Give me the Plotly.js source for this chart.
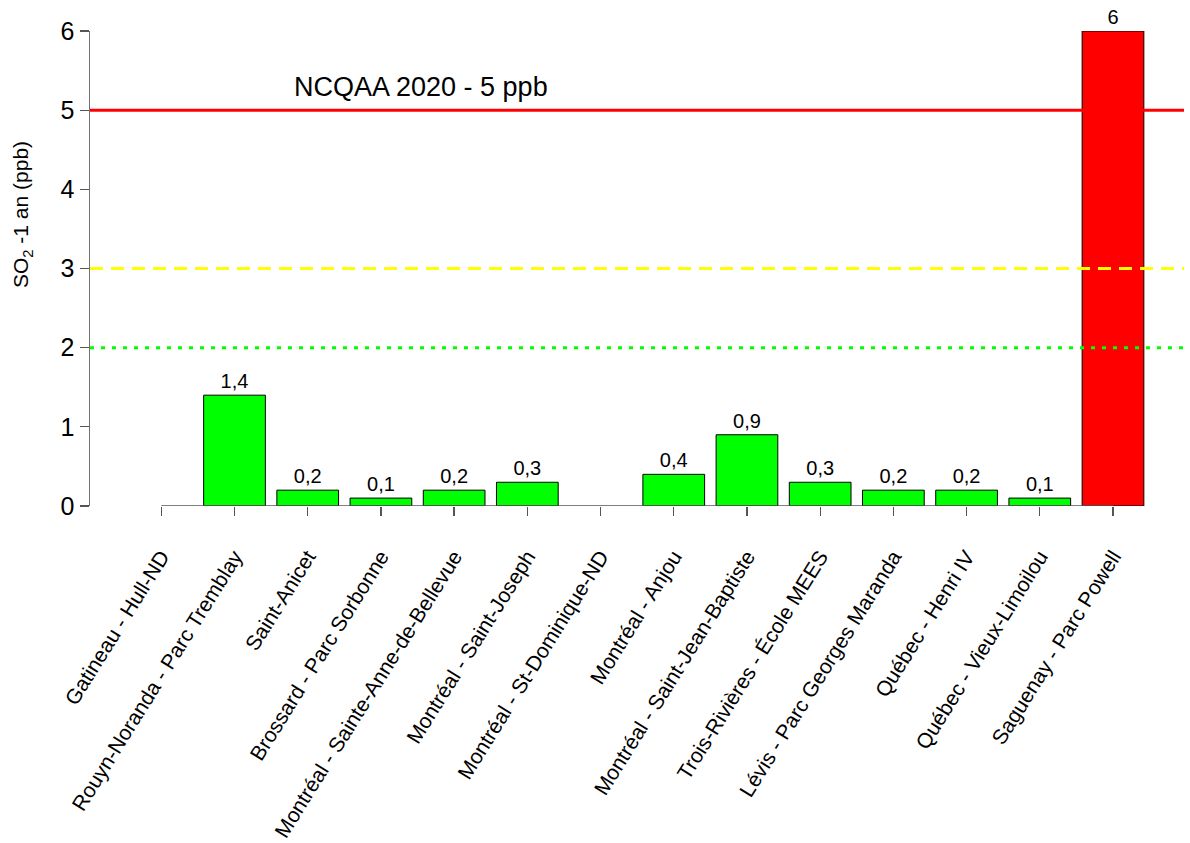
<!DOCTYPE html>
<html>
<head>
<meta charset="utf-8">
<script src="https://cdn.plot.ly/plotly-3.0.1.min.js"></script>
<style>html,body{margin:0;padding:0;background:#fff;}#chart{width:1190px;height:843px;}</style>
</head>
<body>
<div id="chart"></div>
<script>
const stations = [
  "Gatineau - Hull-ND",
  "Rouyn-Noranda - Parc Tremblay",
  "Saint-Anicet",
  "Brossard - Parc Sorbonne",
  "Montréal - Sainte-Anne-de-Bellevue",
  "Montréal - Saint-Joseph",
  "Montréal - St-Dominique-ND",
  "Montréal - Anjou",
  "Montréal - Saint-Jean-Baptiste",
  "Trois-Rivières - École MEES",
  "Lévis - Parc Georges Maranda",
  "Québec - Henri IV",
  "Québec - Vieux-Limoilou",
  "Saguenay - Parc Powell"
];
const so2Values = [null, 1.4, 0.2, 0.1, 0.2, 0.3, null, 0.4, 0.9, 0.3, 0.2, 0.2, 0.1, 6];
const normValue = 5;
const normLabel = "NCQAA 2020 - 5 ppb";
const yellowLevel = 3;
const greenLevel = 2;
const yTicks = [0, 1, 2, 3, 4, 5, 6];

const FONT = "Liberation Sans, Arial, Helvetica, sans-serif";
const barColors = so2Values.map(v => (v !== null && v > normValue) ? "#FF0000" : "#00FF00");
const textPos = so2Values.map(v => v === null ? "none" : "outside");

const trace = {
  type: "bar",
  x: stations,
  y: so2Values,
  width: 0.843,
  marker: { color: barColors, line: { color: "#000000", width: 1 } },
  texttemplate: "%{y}",
  textposition: textPos,
  cliponaxis: false,
  constraintext: "none",
  textfont: { family: FONT, size: 20, color: "#000000" },
  hoverinfo: "x+y"
};

const layout = {
  width: 1190,
  height: 843,
  margin: { l: 90, r: 6, t: 31, b: 337 },
  separators: ", ",
  paper_bgcolor: "#ffffff",
  plot_bgcolor: "#ffffff",
  showlegend: false,
  font: { family: FONT, color: "#000000" },
  xaxis: {
    type: "category",
    categoryorder: "array",
    categoryarray: stations,
    range: [-0.974, 13.97],
    showgrid: false,
    zeroline: false,
    showline: false,
    ticks: "outside",
    ticklen: 9,
    tickwidth: 1.3,
    tickcolor: "#555555",
    tickangle: -58,
    ticklabelstandoff: 20,
    tickfont: { family: FONT, size: 21, color: "#000000" }
  },
  yaxis: {
    range: [0, 6],
    tickvals: yTicks,
    ticktext: yTicks.map(String),
    showgrid: false,
    zeroline: false,
    showline: true,
    linecolor: "#707070",
    linewidth: 1.5,
    ticks: "outside",
    ticklen: 9,
    tickwidth: 1.3,
    tickcolor: "#555555",
    tickfont: { family: FONT, size: 25, color: "#000000" }
  },
  shapes: [
    { type: "line", xref: "x", yref: "y", x0: 0, x1: stations.length - 1, y0: 0, y1: 0,
      line: { color: "#555555", width: 1.3 }, layer: "above" },
    { type: "line", xref: "paper", yref: "y", x0: 0, x1: 1, y0: normValue, y1: normValue,
      line: { color: "#FF0000", width: 3 }, layer: "above" },
    { type: "line", xref: "paper", yref: "y", x0: 0, x1: 1, y0: yellowLevel, y1: yellowLevel,
      line: { color: "#FFFF00", width: 3, dash: "13px,8px" }, layer: "above" },
    { type: "line", xref: "paper", yref: "y", x0: 0, x1: 1, y0: greenLevel, y1: greenLevel,
      line: { color: "#00FF00", width: 3, dash: "4px,7px" }, layer: "above" }
  ],
  annotations: [
    { text: normLabel, xref: "paper", yref: "paper", x: 0.3026, y: 0.882,
      xanchor: "center", yanchor: "middle", showarrow: false,
      font: { family: FONT, size: 27, color: "#000000" } },
    { text: "SO<sub>2</sub> -1 an (ppb)", xref: "paper", yref: "paper", x: -0.062, y: 0.613,
      xanchor: "center", yanchor: "middle", textangle: -90, showarrow: false,
      font: { family: FONT, size: 21, color: "#000000" } }
  ]
};

Plotly.newPlot("chart", [trace], layout, { displayModeBar: false, staticPlot: true });
</script>
</body>
</html>
